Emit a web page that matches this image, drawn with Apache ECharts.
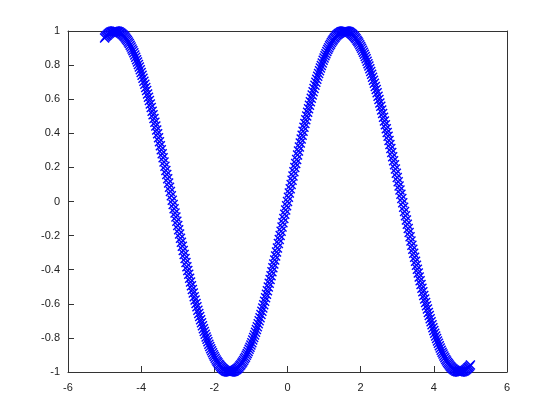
<!DOCTYPE html>
<html>
<head>
<meta charset="utf-8">
<script src="https://cdn.jsdelivr.net/npm/echarts@6/dist/echarts.min.js"></script>
<style>
  html, body { margin: 0; padding: 0; background: #fff; }
  #chart { width: 560px; height: 420px; }
</style>
</head>
<body>
<div id="chart"></div>
<script>
// sample positions
const xs = [
  -5.00, -4.95, -4.90, -4.85, -4.80, -4.75, -4.70, -4.65, -4.60, -4.55,
  -4.50, -4.45, -4.40, -4.35, -4.30, -4.25, -4.20, -4.15, -4.10, -4.05,
  -4.00, -3.95, -3.90, -3.85, -3.80, -3.75, -3.70, -3.65, -3.60, -3.55,
  -3.50, -3.45, -3.40, -3.35, -3.30, -3.25, -3.20, -3.15, -3.10, -3.05,
  -3.00, -2.95, -2.90, -2.85, -2.80, -2.75, -2.70, -2.65, -2.60, -2.55,
  -2.50, -2.45, -2.40, -2.35, -2.30, -2.25, -2.20, -2.15, -2.10, -2.05,
  -2.00, -1.95, -1.90, -1.85, -1.80, -1.75, -1.70, -1.65, -1.60, -1.55,
  -1.50, -1.45, -1.40, -1.35, -1.30, -1.25, -1.20, -1.15, -1.10, -1.05,
  -1.00, -0.95, -0.90, -0.85, -0.80, -0.75, -0.70, -0.65, -0.60, -0.55,
  -0.50, -0.45, -0.40, -0.35, -0.30, -0.25, -0.20, -0.15, -0.10, -0.05,
  0.00, 0.05, 0.10, 0.15, 0.20, 0.25, 0.30, 0.35, 0.40, 0.45,
  0.50, 0.55, 0.60, 0.65, 0.70, 0.75, 0.80, 0.85, 0.90, 0.95,
  1.00, 1.05, 1.10, 1.15, 1.20, 1.25, 1.30, 1.35, 1.40, 1.45,
  1.50, 1.55, 1.60, 1.65, 1.70, 1.75, 1.80, 1.85, 1.90, 1.95,
  2.00, 2.05, 2.10, 2.15, 2.20, 2.25, 2.30, 2.35, 2.40, 2.45,
  2.50, 2.55, 2.60, 2.65, 2.70, 2.75, 2.80, 2.85, 2.90, 2.95,
  3.00, 3.05, 3.10, 3.15, 3.20, 3.25, 3.30, 3.35, 3.40, 3.45,
  3.50, 3.55, 3.60, 3.65, 3.70, 3.75, 3.80, 3.85, 3.90, 3.95,
  4.00, 4.05, 4.10, 4.15, 4.20, 4.25, 4.30, 4.35, 4.40, 4.45,
  4.50, 4.55, 4.60, 4.65, 4.70, 4.75, 4.80, 4.85, 4.90, 4.95,
  5.00
];

// curve heights
const ys = [
  0.959, 0.972, 0.982, 0.991, 0.996, 0.999, 1.000, 0.998, 0.994, 0.987,
  0.978, 0.966, 0.952, 0.935, 0.916, 0.895, 0.872, 0.846, 0.818, 0.789,
  0.757, 0.723, 0.688, 0.651, 0.612, 0.572, 0.530, 0.487, 0.443, 0.397,
  0.351, 0.304, 0.256, 0.207, 0.158, 0.108, 0.058, 0.008, -0.042, -0.091,
  -0.141, -0.191, -0.239, -0.287, -0.335, -0.382, -0.427, -0.472, -0.516, -0.558,
  -0.598, -0.638, -0.675, -0.711, -0.746, -0.778, -0.808, -0.837, -0.863, -0.887,
  -0.909, -0.929, -0.946, -0.961, -0.974, -0.984, -0.992, -0.997, -1.000, -1.000,
  -0.997, -0.993, -0.985, -0.976, -0.964, -0.949, -0.932, -0.913, -0.891, -0.867,
  -0.841, -0.813, -0.783, -0.751, -0.717, -0.682, -0.644, -0.605, -0.565, -0.523,
  -0.479, -0.435, -0.389, -0.343, -0.296, -0.247, -0.199, -0.149, -0.100, -0.050,
  0.000, 0.050, 0.100, 0.149, 0.199, 0.247, 0.296, 0.343, 0.389, 0.435,
  0.479, 0.523, 0.565, 0.605, 0.644, 0.682, 0.717, 0.751, 0.783, 0.813,
  0.841, 0.867, 0.891, 0.913, 0.932, 0.949, 0.964, 0.976, 0.985, 0.993,
  0.997, 1.000, 1.000, 0.997, 0.992, 0.984, 0.974, 0.961, 0.946, 0.929,
  0.909, 0.887, 0.863, 0.837, 0.808, 0.778, 0.746, 0.711, 0.675, 0.638,
  0.598, 0.558, 0.516, 0.472, 0.427, 0.382, 0.335, 0.287, 0.239, 0.191,
  0.141, 0.091, 0.042, -0.008, -0.058, -0.108, -0.158, -0.207, -0.256, -0.304,
  -0.351, -0.397, -0.443, -0.487, -0.530, -0.572, -0.612, -0.651, -0.688, -0.723,
  -0.757, -0.789, -0.818, -0.846, -0.872, -0.895, -0.916, -0.935, -0.952, -0.966,
  -0.978, -0.987, -0.994, -0.998, -1.000, -0.999, -0.996, -0.991, -0.982, -0.972,
  -0.959
];

// the in-between samples, which make the marker band look solid
const xsMid = [
  -4.975, -4.925, -4.875, -4.825, -4.775, -4.725, -4.675, -4.625, -4.575, -4.525,
  -4.475, -4.425, -4.375, -4.325, -4.275, -4.225, -4.175, -4.125, -4.075, -4.025,
  -3.975, -3.925, -3.875, -3.825, -3.775, -3.725, -3.675, -3.625, -3.575, -3.525,
  -3.475, -3.425, -3.375, -3.325, -3.275, -3.225, -3.175, -3.125, -3.075, -3.025,
  -2.975, -2.925, -2.875, -2.825, -2.775, -2.725, -2.675, -2.625, -2.575, -2.525,
  -2.475, -2.425, -2.375, -2.325, -2.275, -2.225, -2.175, -2.125, -2.075, -2.025,
  -1.975, -1.925, -1.875, -1.825, -1.775, -1.725, -1.675, -1.625, -1.575, -1.525,
  -1.475, -1.425, -1.375, -1.325, -1.275, -1.225, -1.175, -1.125, -1.075, -1.025,
  -0.975, -0.925, -0.875, -0.825, -0.775, -0.725, -0.675, -0.625, -0.575, -0.525,
  -0.475, -0.425, -0.375, -0.325, -0.275, -0.225, -0.175, -0.125, -0.075, -0.025,
  0.025, 0.075, 0.125, 0.175, 0.225, 0.275, 0.325, 0.375, 0.425, 0.475,
  0.525, 0.575, 0.625, 0.675, 0.725, 0.775, 0.825, 0.875, 0.925, 0.975,
  1.025, 1.075, 1.125, 1.175, 1.225, 1.275, 1.325, 1.375, 1.425, 1.475,
  1.525, 1.575, 1.625, 1.675, 1.725, 1.775, 1.825, 1.875, 1.925, 1.975,
  2.025, 2.075, 2.125, 2.175, 2.225, 2.275, 2.325, 2.375, 2.425, 2.475,
  2.525, 2.575, 2.625, 2.675, 2.725, 2.775, 2.825, 2.875, 2.925, 2.975,
  3.025, 3.075, 3.125, 3.175, 3.225, 3.275, 3.325, 3.375, 3.425, 3.475,
  3.525, 3.575, 3.625, 3.675, 3.725, 3.775, 3.825, 3.875, 3.925, 3.975,
  4.025, 4.075, 4.125, 4.175, 4.225, 4.275, 4.325, 4.375, 4.425, 4.475,
  4.525, 4.575, 4.625, 4.675, 4.725, 4.775, 4.825, 4.875, 4.925, 4.975
];

const ysMid = [
  0.966, 0.977, 0.987, 0.994, 0.998, 1.000, 0.999, 0.996, 0.990, 0.982,
  0.972, 0.959, 0.944, 0.926, 0.906, 0.884, 0.859, 0.832, 0.804, 0.773,
  0.740, 0.706, 0.669, 0.631, 0.592, 0.551, 0.509, 0.465, 0.420, 0.374,
  0.327, 0.280, 0.231, 0.182, 0.133, 0.083, 0.033, -0.017, -0.067, -0.116,
  -0.166, -0.215, -0.263, -0.311, -0.358, -0.405, -0.450, -0.494, -0.537, -0.578,
  -0.618, -0.657, -0.694, -0.729, -0.762, -0.794, -0.823, -0.850, -0.876, -0.899,
  -0.919, -0.938, -0.954, -0.968, -0.979, -0.988, -0.995, -0.999, -1.000, -0.999,
  -0.995, -0.989, -0.981, -0.970, -0.957, -0.941, -0.923, -0.902, -0.880, -0.855,
  -0.828, -0.798, -0.767, -0.734, -0.700, -0.663, -0.625, -0.585, -0.544, -0.501,
  -0.457, -0.412, -0.366, -0.319, -0.272, -0.223, -0.174, -0.125, -0.075, -0.025,
  0.025, 0.075, 0.125, 0.174, 0.223, 0.272, 0.319, 0.366, 0.412, 0.457,
  0.501, 0.544, 0.585, 0.625, 0.663, 0.700, 0.734, 0.767, 0.798, 0.828,
  0.855, 0.880, 0.902, 0.923, 0.941, 0.957, 0.970, 0.981, 0.989, 0.995,
  0.999, 1.000, 0.999, 0.995, 0.988, 0.979, 0.968, 0.954, 0.938, 0.919,
  0.899, 0.876, 0.850, 0.823, 0.794, 0.762, 0.729, 0.694, 0.657, 0.618,
  0.578, 0.537, 0.494, 0.450, 0.405, 0.358, 0.311, 0.263, 0.215, 0.166,
  0.116, 0.067, 0.017, -0.033, -0.083, -0.133, -0.182, -0.231, -0.280, -0.327,
  -0.374, -0.420, -0.465, -0.509, -0.551, -0.592, -0.631, -0.669, -0.706, -0.740,
  -0.773, -0.804, -0.832, -0.859, -0.884, -0.906, -0.926, -0.944, -0.959, -0.972,
  -0.982, -0.990, -0.996, -0.999, -1.000, -0.998, -0.994, -0.987, -0.977, -0.966
];

const xRange = [-6, 6];
const yRange = [-1, 1];

// gnuplot-style 'x' marker, drawn as a filled cross outline
const CROSS = 'path://M0,1L1,0L5,4L9,0L10,1L6,5L10,9L9,10L5,6L1,10L0,9L4,5Z';

const chart = echarts.init(document.getElementById('chart'), null, { renderer: 'canvas' });

const frameColor = '#333';
const axisLine = { show: true, onZero: false, lineStyle: { color: frameColor, width: 1 } };
const tickIn = { show: true, inside: true, length: 6, lineStyle: { color: frameColor, width: 1 } };
const labelStyle = { color: '#222', fontSize: 11, fontFamily: 'Liberation Sans, Arial, sans-serif' };

const points = xs.map((x, i) => [x, ys[i]])
  .concat(xsMid.map((x, i) => [x, ysMid[i]]))
  .sort((a, b) => a[0] - b[0]);

chart.setOption({
  animation: false,
  backgroundColor: '#fff',
  grid: { left: 68, right: 53, top: 31, bottom: 48, containLabel: false },
  xAxis: [
    {
      type: 'value', min: xRange[0], max: xRange[1], interval: 2, position: 'bottom',
      axisLine, axisTick: tickIn, splitLine: { show: false },
      axisLabel: { ...labelStyle, margin: 10 }
    },
    {
      type: 'value', min: xRange[0], max: xRange[1], interval: 2, position: 'top',
      axisLine, axisTick: { show: false }, splitLine: { show: false }, axisLabel: { show: false }
    }
  ],
  yAxis: [
    {
      type: 'value', min: yRange[0], max: yRange[1], interval: 0.2, position: 'left',
      axisLine, axisTick: tickIn, splitLine: { show: false },
      axisLabel: { ...labelStyle, margin: 8, formatter: v => String(Math.round(v * 10) / 10) }
    },
    {
      type: 'value', min: yRange[0], max: yRange[1], interval: 0.2, position: 'right',
      axisLine, axisTick: { show: false }, splitLine: { show: false }, axisLabel: { show: false }
    }
  ],
  series: [
    {
      type: 'scatter',
      xAxisIndex: 0,
      yAxisIndex: 0,
      data: points,
      symbol: CROSS,
      symbolSize: 10,
      itemStyle: { color: '#0000ff', opacity: 1 },
      silent: true
    }
  ]
});
</script>
</body>
</html>
